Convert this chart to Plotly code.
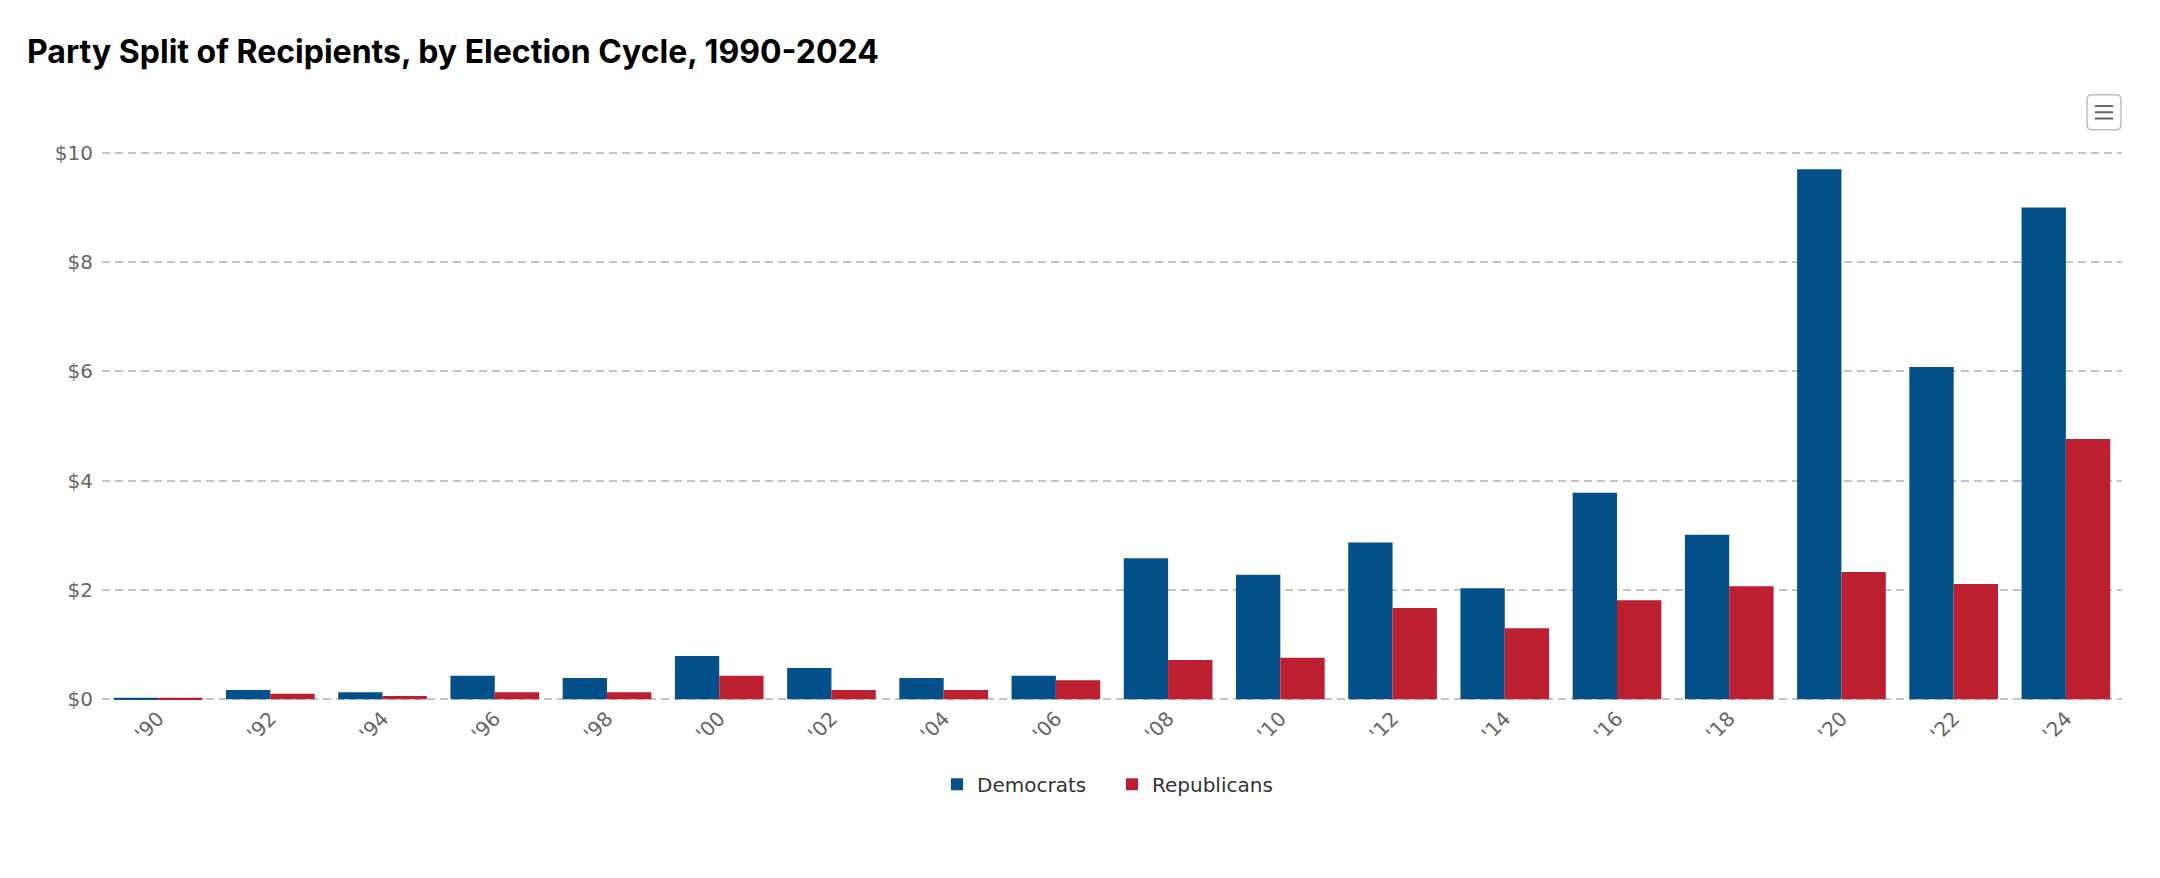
import plotly.graph_objects as go

cycles = ["'90", "'92", "'94", "'96", "'98", "'00", "'02", "'04", "'06",
          "'08", "'10", "'12", "'14", "'16", "'18", "'20", "'22", "'24"]
democrats = [0.03, 0.17, 0.13, 0.43, 0.39, 0.79, 0.57, 0.39, 0.43,
             2.58, 2.28, 2.87, 2.03, 3.78, 3.01, 9.70, 6.08, 9.00]
republicans = [0.03, 0.10, 0.06, 0.13, 0.13, 0.43, 0.17, 0.17, 0.35,
               0.72, 0.76, 1.67, 1.30, 1.81, 2.07, 2.33, 2.11, 4.76]
y_ticks = [0, 2, 4, 6, 8, 10]
y_labels = ["$" + str(v) for v in y_ticks]

# page body has an 8px margin: the figure starts at (8, 8) in the window
OFF = 8
W, H = 2160 - OFF, 878 - OFF
Y_TOP, Y_ZERO = 152.5, 699.0          # window pixels of $10 and $0
YMAX = 10.0
PAD = 0.05                             # small range padding so edge gridlines show
k = (Y_ZERO - Y_TOP) / YMAX            # px per dollar
padpx = PAD * k
L, R = 102 - OFF, 38
T = Y_TOP - padpx - OFF
B = 878 - (Y_ZERO + padpx)
pw, ph = W - L - R, H - T - B

def px(x):
    return (x - OFF - L) / pw

def py(y):
    return (H - B - (y - OFF)) / ph

fig = go.Figure()
fig.add_trace(go.Bar(name="Democrats", x=cycles, y=democrats,
                     marker=dict(color="#04508a", line=dict(width=0))))
fig.add_trace(go.Bar(name="Republicans", x=cycles, y=republicans,
                     marker=dict(color="#bc1f30", line=dict(width=0))))

# export menu button (decoration)
x0, x1, y0, y1, r = px(2087), px(2121), py(94.5), py(129.5), 5
rx, ry = r / pw, r / ph
path = (f"M {x0+rx},{y0} L {x1-rx},{y0} Q {x1},{y0} {x1},{y0-ry} "
        f"L {x1},{y1+ry} Q {x1},{y1} {x1-rx},{y1} L {x0+rx},{y1} "
        f"Q {x0},{y1} {x0},{y1+ry} L {x0},{y0-ry} Q {x0},{y0} {x0+rx},{y0} Z")
shapes = [dict(type="path", xref="paper", yref="paper", path=path,
               line=dict(color="#bdbdbd", width=1.5), fillcolor="white")]
for yy in (105.8, 112, 118.3):
    shapes.append(dict(type="line", xref="paper", yref="paper",
                       x0=px(2095), x1=px(2113), y0=py(yy), y1=py(yy),
                       line=dict(color="#666666", width=2)))

fig.update_layout(
    width=W, height=H,
    margin=dict(l=L, r=R, t=T, b=B),
    paper_bgcolor="white", plot_bgcolor="white",
    barmode="group", bargap=0.21, bargroupgap=0,
    title=dict(text="<b>Party Split of Recipients, by Election Cycle, 1990-2024</b>",
               x=(27 - OFF) / W, xref="container", xanchor="left",
               y=1 - (52 - OFF) / H, yref="container", yanchor="middle",
               font=dict(family="Inter", size=32, color="#000000")),
    font=dict(family="DejaVu Sans", color="#666666"),
    xaxis=dict(showgrid=False, showline=False, ticks="", tickangle=-45,
               tickfont=dict(family="DejaVu Sans", size=20, color="#666666")),
    yaxis=dict(range=[-PAD, YMAX + PAD], tickmode="array", tickvals=y_ticks,
               ticktext=y_labels,
               showgrid=True, gridcolor="#c4c4c4", gridwidth=2,
               griddash="8px,5px", zeroline=False, showline=False,
               ticks="", ticklabelstandoff=8,
               tickfont=dict(family="DejaVu Sans", size=20, color="#666666")),
    legend=dict(orientation="h", x=0.5, xanchor="center",
                y=py(784), yanchor="middle",
                font=dict(family="DejaVu Sans", size=20, color="#333333"),
                itemwidth=30, entrywidth=130),
    shapes=shapes,
    showlegend=True,
)

fig.write_html("out.html")
